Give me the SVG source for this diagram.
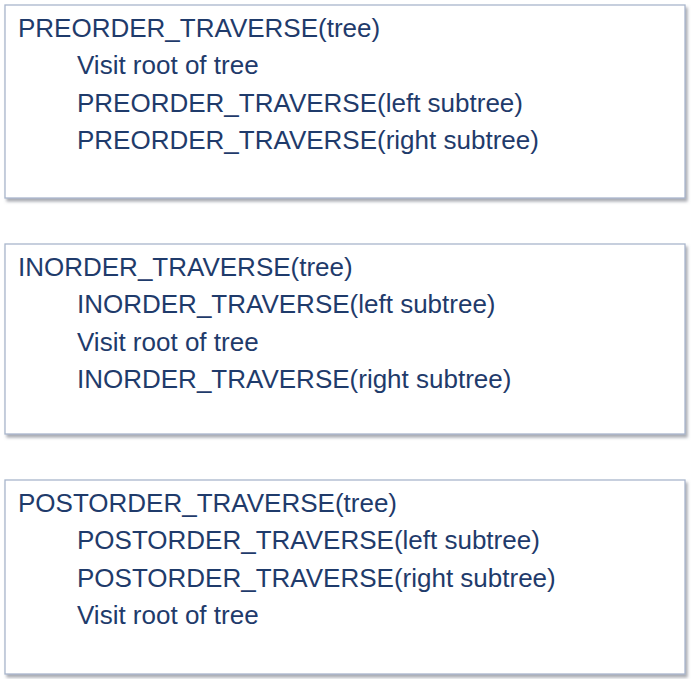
<svg xmlns="http://www.w3.org/2000/svg" width="691" height="679" viewBox="0 0 691 679">
<defs>
<filter id="sh" x="-5%" y="-5%" width="110%" height="115%">
<feDropShadow dx="2" dy="3" stdDeviation="1.5" flood-color="#6f7480" flood-opacity="0.6"/>
</filter>
<style>
.box{fill:#ffffff;stroke:#a9b6cc;stroke-width:1.3;filter:url(#sh)}
.t{font-family:"Liberation Sans",Arial,sans-serif;font-size:26px;fill:#1f3b6b}
</style>
</defs>
<rect width="691" height="679" fill="#ffffff"/>
<g id="preorder">
<rect class="box" x="5" y="5" width="680" height="193"/>
<text class="t" x="18" y="37">PREORDER_TRAVERSE(tree)</text>
<text class="t" x="77" y="74">Visit root of tree</text>
<text class="t" x="77" y="112">PREORDER_TRAVERSE(left subtree)</text>
<text class="t" x="77" y="149">PREORDER_TRAVERSE(right subtree)</text>
</g>
<g id="inorder">
<rect class="box" x="5" y="244" width="680" height="190"/>
<text class="t" x="18" y="276">INORDER_TRAVERSE(tree)</text>
<text class="t" x="77" y="313">INORDER_TRAVERSE(left subtree)</text>
<text class="t" x="77" y="351">Visit root of tree</text>
<text class="t" x="77" y="388">INORDER_TRAVERSE(right subtree)</text>
</g>
<g id="postorder">
<rect class="box" x="5" y="480" width="680" height="194"/>
<text class="t" x="18" y="512">POSTORDER_TRAVERSE(tree)</text>
<text class="t" x="77" y="549">POSTORDER_TRAVERSE(left subtree)</text>
<text class="t" x="77" y="587">POSTORDER_TRAVERSE(right subtree)</text>
<text class="t" x="77" y="624">Visit root of tree</text>
</g>
<g id="connectors"/>
</svg>
